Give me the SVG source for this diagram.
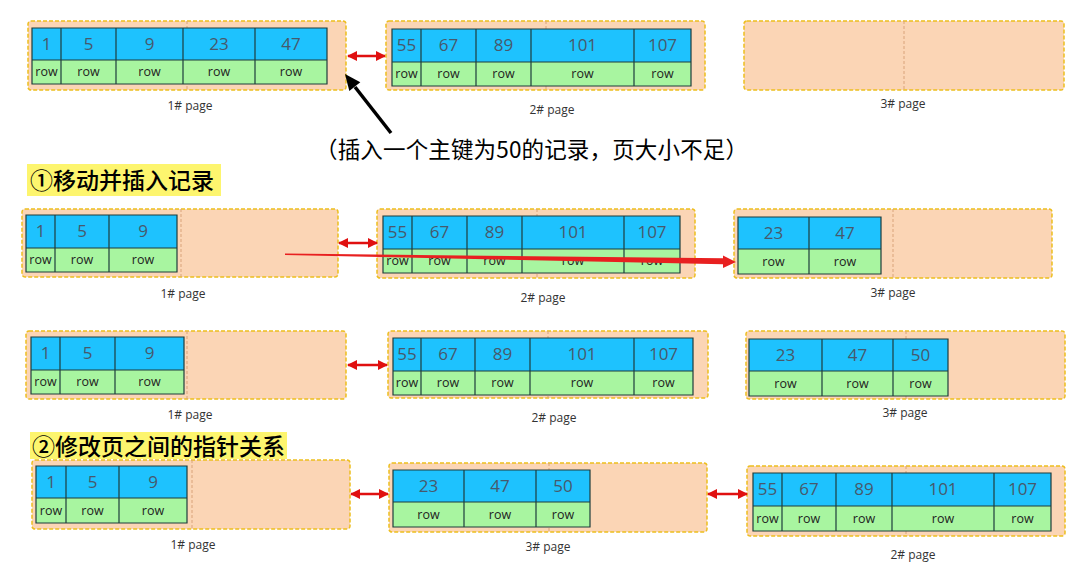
<svg xmlns="http://www.w3.org/2000/svg" width="1069" height="564" viewBox="0 0 1069 564">
<defs>
<style>
.box{fill:#FBD5B5;stroke:#EDBE1E;stroke-width:1.5;stroke-dasharray:4 2}
.mid{stroke:#D9A37A;stroke-width:1;stroke-dasharray:3 2}
.blue{fill:#1EC2FE}
.green{fill:#A8F5A0}
.grid{fill:none;stroke:#1E3C3C;stroke-width:1.2}
.num{font-family:"Open Sans","Liberation Sans",sans-serif;font-size:17px;fill:#47596C;text-anchor:middle}
.row{font-family:"Open Sans","Liberation Sans",sans-serif;font-size:12.5px;fill:#222;text-anchor:middle}
.lbl{font-family:"Open Sans","Liberation Sans",sans-serif;font-size:12px;fill:#333;text-anchor:middle}
.cap{font-family:"Noto Sans CJK SC",sans-serif;font-size:22px;font-weight:500;fill:#000}
.hl{fill:#FDF56E}
.dbl{stroke:#E01010;stroke-width:2.5;fill:none;marker-start:url(#rh);marker-end:url(#rh)}
</style>
<marker id="rh" viewBox="0 0 10 10" refX="9" refY="5" markerWidth="10" markerHeight="10" markerUnits="userSpaceOnUse" orient="auto-start-reverse">
<path d="M0,0 L10,5 L0,10 z" fill="#E01010"/>
</marker>
</defs>

<!-- Row 1 -->
<g id="r1-page1">
<rect class="box" x="28" y="21" width="318" height="69" rx="3"/>
<line class="mid" x1="187" y1="21" x2="187" y2="90"/>
<rect class="blue" x="32" y="28" width="295" height="32"/>
<rect class="green" x="32" y="60" width="295" height="24"/>
<path class="grid" d="M32,28H327V84H32Z M32,60H327 M61,28V84 M116,28V84 M183,28V84 M255,28V84"/>
<text class="num" x="46.5" y="50">1</text><text class="num" x="88.5" y="50">5</text><text class="num" x="149.5" y="50">9</text><text class="num" x="219" y="50">23</text><text class="num" x="291" y="50">47</text>
<text class="row" x="46.5" y="76">row</text><text class="row" x="88.5" y="76">row</text><text class="row" x="149.5" y="76">row</text><text class="row" x="219" y="76">row</text><text class="row" x="291" y="76">row</text>
<text class="lbl" x="190" y="110">1#  page</text>
</g>

<g id="r1-page2">
<rect class="box" x="386" y="21" width="319" height="69" rx="3"/>
<line class="mid" x1="546" y1="21" x2="546" y2="90"/>
<rect class="blue" x="392" y="29" width="299" height="33"/>
<rect class="green" x="392" y="62" width="299" height="24"/>
<path class="grid" d="M392,29H691V86H392Z M392,62H691 M421,29V86 M476,29V86 M531,29V86 M634,29V86"/>
<text class="num" x="406.5" y="51">55</text><text class="num" x="448.5" y="51">67</text><text class="num" x="503.5" y="51">89</text><text class="num" x="582.5" y="51">101</text><text class="num" x="662.5" y="51">107</text>
<text class="row" x="406.5" y="78">row</text><text class="row" x="448.5" y="78">row</text><text class="row" x="503.5" y="78">row</text><text class="row" x="582.5" y="78">row</text><text class="row" x="662.5" y="78">row</text>
<text class="lbl" x="552" y="114">2#  page</text>
</g>

<g id="r1-page3">
<rect class="box" x="744" y="21" width="320" height="69" rx="3"/>
<line class="mid" x1="904" y1="21" x2="904" y2="90"/>
<text class="lbl" x="903" y="108">3#  page</text>
</g>

<g id="caption1">
<text class="cap" x="315" y="158" textLength="433" lengthAdjust="spacing" style="font-weight:400;font-size:22.5px">（插入一个主键为50的记录，页大小不足）</text>
</g>

<g id="step1">
<rect class="hl" x="27" y="164" width="194" height="32"/>
<text class="cap" x="30" y="189" style="font-size:23px">①移动并插入记录</text>
</g>

<!-- Row 2 -->
<g id="r2-page1">
<rect class="box" x="22" y="209" width="316" height="68" rx="3"/>
<line class="mid" x1="181" y1="209" x2="181" y2="277"/>
<rect class="blue" x="26" y="215" width="151" height="33"/>
<rect class="green" x="26" y="248" width="151" height="24"/>
<path class="grid" d="M26,215H177V272H26Z M26,248H177 M55,215V272 M109,215V272"/>
<text class="num" x="40.5" y="237">1</text><text class="num" x="82" y="237">5</text><text class="num" x="143" y="237">9</text>
<text class="row" x="40.5" y="264">row</text><text class="row" x="82" y="264">row</text><text class="row" x="143" y="264">row</text>
<text class="lbl" x="183" y="298">1#  page</text>
</g>

<g id="r2-page2">
<rect class="box" x="377" y="209" width="318" height="69" rx="3"/>
<line class="mid" x1="537" y1="209" x2="537" y2="278"/>
<rect class="blue" x="383" y="216" width="297" height="33"/>
<rect class="green" x="383" y="249" width="297" height="24"/>
<path class="grid" d="M383,216H680V273H383Z M383,249H680 M412,216V273 M467,216V273 M522,216V273 M624,216V273"/>
<text class="num" x="397.5" y="238">55</text><text class="num" x="439.5" y="238">67</text><text class="num" x="494.5" y="238">89</text><text class="num" x="573" y="238">101</text><text class="num" x="652" y="238">107</text>
<text class="row" x="397.5" y="265">row</text><text class="row" x="439.5" y="265">row</text><text class="row" x="494.5" y="265">row</text><text class="row" x="573" y="265">row</text><text class="row" x="652" y="265">row</text>
<text class="lbl" x="543" y="302">2#  page</text>
</g>

<g id="r2-page3">
<rect class="box" x="734" y="209" width="318" height="69" rx="3"/>
<line class="mid" x1="893" y1="209" x2="893" y2="278"/>
<rect class="blue" x="738" y="217" width="143" height="32"/>
<rect class="green" x="738" y="249" width="143" height="25"/>
<path class="grid" d="M738,217H881V274H738Z M738,249H881 M809,217V274"/>
<text class="num" x="773.5" y="239">23</text><text class="num" x="845" y="239">47</text>
<text class="row" x="773.5" y="266">row</text><text class="row" x="845" y="266">row</text>
<text class="lbl" x="893" y="297">3#  page</text>
</g>

<!-- Row 3 -->
<g id="r3-page1">
<rect class="box" x="26" y="331" width="320" height="68" rx="3"/>
<line class="mid" x1="187" y1="331" x2="187" y2="399"/>
<rect class="blue" x="31" y="337" width="153" height="33"/>
<rect class="green" x="31" y="370" width="153" height="24"/>
<path class="grid" d="M31,337H184V394H31Z M31,370H184 M60,337V394 M115,337V394"/>
<text class="num" x="45.5" y="359">1</text><text class="num" x="87.5" y="359">5</text><text class="num" x="149.5" y="359">9</text>
<text class="row" x="45.5" y="386">row</text><text class="row" x="87.5" y="386">row</text><text class="row" x="149.5" y="386">row</text>
<text class="lbl" x="190" y="419">1#  page</text>
</g>

<g id="r3-page2">
<rect class="box" x="388" y="331" width="320" height="67" rx="3"/>
<line class="mid" x1="548" y1="331" x2="548" y2="398"/>
<rect class="blue" x="393" y="338" width="300" height="33"/>
<rect class="green" x="393" y="371" width="300" height="24"/>
<path class="grid" d="M393,338H693V395H393Z M393,371H693 M421,338V395 M475,338V395 M530,338V395 M634,338V395"/>
<text class="num" x="407" y="360">55</text><text class="num" x="448" y="360">67</text><text class="num" x="502.5" y="360">89</text><text class="num" x="582" y="360">101</text><text class="num" x="663.5" y="360">107</text>
<text class="row" x="407" y="387">row</text><text class="row" x="448" y="387">row</text><text class="row" x="502.5" y="387">row</text><text class="row" x="582" y="387">row</text><text class="row" x="663.5" y="387">row</text>
<text class="lbl" x="554" y="422">2#  page</text>
</g>

<g id="r3-page3">
<rect class="box" x="746" y="331" width="319" height="68" rx="3"/>
<line class="mid" x1="906" y1="331" x2="906" y2="399"/>
<rect class="blue" x="749" y="339" width="199" height="32"/>
<rect class="green" x="749" y="371" width="199" height="25"/>
<path class="grid" d="M749,339H948V396H749Z M749,371H948 M822,339V396 M893,339V396"/>
<text class="num" x="785.5" y="361">23</text><text class="num" x="857.5" y="361">47</text><text class="num" x="920.5" y="361">50</text>
<text class="row" x="785.5" y="388">row</text><text class="row" x="857.5" y="388">row</text><text class="row" x="920.5" y="388">row</text>
<text class="lbl" x="905" y="417">3#  page</text>
</g>

<g id="step2">
<rect class="hl" x="30" y="432" width="257" height="27"/>
<text class="cap" x="32" y="455" style="font-size:23px">②修改页之间的指针关系</text>
</g>

<!-- Row 4 -->
<g id="r4-page1">
<rect class="box" x="32" y="460" width="318" height="69" rx="3"/>
<line class="mid" x1="192" y1="460" x2="192" y2="529"/>
<rect class="blue" x="36" y="466" width="151" height="32"/>
<rect class="green" x="36" y="498" width="151" height="25"/>
<path class="grid" d="M36,466H187V523H36Z M36,498H187 M66,466V523 M119,466V523"/>
<text class="num" x="51" y="488">1</text><text class="num" x="92.5" y="488">5</text><text class="num" x="153" y="488">9</text>
<text class="row" x="51" y="515">row</text><text class="row" x="92.5" y="515">row</text><text class="row" x="153" y="515">row</text>
<text class="lbl" x="193" y="549">1#  page</text>
</g>

<g id="r4-page3">
<rect class="box" x="389" y="463" width="318" height="69" rx="3"/>
<line class="mid" x1="549" y1="463" x2="549" y2="532"/>
<rect class="blue" x="393" y="470" width="197" height="32"/>
<rect class="green" x="393" y="502" width="197" height="25"/>
<path class="grid" d="M393,470H590V527H393Z M393,502H590 M464,470V527 M536,470V527"/>
<text class="num" x="428.5" y="492">23</text><text class="num" x="500" y="492">47</text><text class="num" x="563" y="492">50</text>
<text class="row" x="428.5" y="519">row</text><text class="row" x="500" y="519">row</text><text class="row" x="563" y="519">row</text>
<text class="lbl" x="548" y="551">3#  page</text>
</g>

<g id="r4-page2">
<rect class="box" x="747" y="466" width="318" height="70" rx="3"/>
<line class="mid" x1="906" y1="466" x2="906" y2="536"/>
<rect class="blue" x="753" y="473" width="298" height="33"/>
<rect class="green" x="753" y="506" width="298" height="25"/>
<path class="grid" d="M753,473H1051V531H753Z M753,506H1051 M782,473V531 M836,473V531 M892,473V531 M994,473V531"/>
<text class="num" x="767.5" y="495">55</text><text class="num" x="809" y="495">67</text><text class="num" x="864" y="495">89</text><text class="num" x="943" y="495">101</text><text class="num" x="1022.5" y="495">107</text>
<text class="row" x="767.5" y="523">row</text><text class="row" x="809" y="523">row</text><text class="row" x="864" y="523">row</text><text class="row" x="943" y="523">row</text><text class="row" x="1022.5" y="523">row</text>
<text class="lbl" x="913" y="559">2#  page</text>
</g>

<g id="connectors">
<line class="dbl" x1="348" y1="56" x2="385" y2="56"/>
<line class="dbl" x1="339" y1="243" x2="377" y2="243"/>
<line class="dbl" x1="348" y1="365" x2="387" y2="365"/>
<line class="dbl" x1="351" y1="494" x2="388" y2="494"/>
<line class="dbl" x1="708" y1="494" x2="747" y2="494"/>
<polygon fill="#E82020" points="285,253.6 723,258.3 723,255.5 736,262 723,268 723,264.2 285,255"/>
<line x1="391" y1="133" x2="355" y2="87" stroke="#000" stroke-width="3.5"/>
<polygon fill="#000" points="345,74 360.3,82.3 349.3,90.9"/>
</g>
</svg>
